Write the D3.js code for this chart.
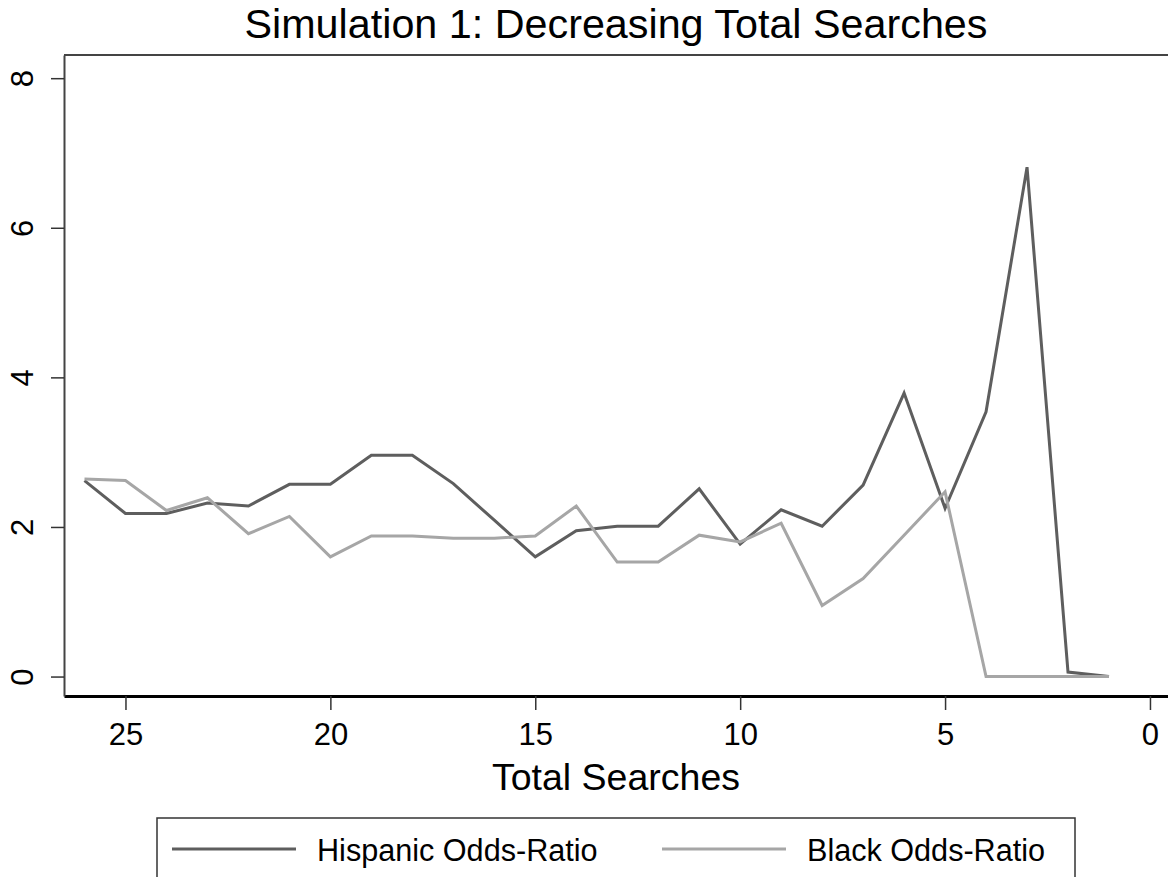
<!DOCTYPE html>
<html>
<head>
<meta charset="utf-8">
<script src="https://cdn.jsdelivr.net/npm/d3@7"></script>
<style>
  body { margin: 0; background: #fff; }
  text { font-family: "Liberation Sans", Arial, sans-serif; fill: #000; }
</style>
</head>
<body>
<div id="sim-chart"></div>
<script>
// data (x = total searches, decreasing)
const searches = [26, 25, 24, 23, 22, 21, 20, 19, 18, 17, 16, 15, 14, 13, 12, 11, 10, 9, 8, 7, 6, 5, 4, 3, 2, 1];
const hispanicOR = [2.62, 2.18, 2.18, 2.32, 2.28, 2.57, 2.57, 2.96, 2.96, 2.58, 2.09, 1.60, 1.95, 2.01, 2.01, 2.51, 1.77, 2.23, 2.01, 2.56, 3.79, 2.25, 3.54, 6.81, 0.06, 0.0];
const blackOR = [2.64, 2.62, 2.22, 2.39, 1.91, 2.14, 1.60, 1.88, 1.88, 1.85, 1.85, 1.88, 2.28, 1.53, 1.53, 1.89, 1.80, 2.05, 0.95, 1.31, 1.89, 2.47, 0.0, 0.0, 0.0, 0.0];
const xTicks = [25, 20, 15, 10, 5, 0];
const yTicks = [0, 2, 4, 6, 8];
const seriesNames = ["Hispanic Odds-Ratio", "Black Odds-Ratio"];
const seriesColors = ["#5e5e5e", "#a6a6a6"];

const W = 1168, H = 877;
const margin = { top: 55, right: 0, bottom: 181, left: 64 };

const svg = d3.select("#sim-chart")
    .append("svg")
    .attr("width", W)
    .attr("height", H);

// scales (x axis runs backwards)
const x = d3.scaleLinear().domain([26.5, -0.44]).range([margin.left, W - margin.right]);
const y = d3.scaleLinear().domain([-0.26, 8.31]).range([H - margin.bottom, margin.top]);

// title
svg.append("text")
    .attr("x", (margin.left + W) / 2)
    .attr("y", 38)
    .attr("text-anchor", "middle")
    .style("font-size", "41.3px")
    .text("Simulation 1: Decreasing Total Searches");

// frame: top line
svg.append("line")
    .attr("x1", margin.left).attr("x2", W)
    .attr("y1", margin.top).attr("y2", margin.top)
    .attr("stroke", "#444").attr("stroke-width", 2);

// x axis
const xAxis = svg.append("g")
    .attr("transform", `translate(0,${H - margin.bottom})`)
    .call(d3.axisBottom(x).tickValues(xTicks).tickSize(14).tickSizeOuter(0).tickPadding(13).tickFormat(d3.format("d")));
xAxis.select(".domain").attr("stroke", "#000").attr("stroke-width", 3);
xAxis.selectAll(".tick line").attr("stroke", "#333").attr("stroke-width", 1.5);
xAxis.selectAll(".tick text").style("font-size", "31px");

// y axis
const yAxis = svg.append("g")
    .attr("transform", `translate(${margin.left},0)`)
    .call(d3.axisLeft(y).tickValues(yTicks).tickSize(13).tickSizeOuter(0).tickFormat(d3.format("d")));
yAxis.select(".domain").attr("stroke", "#444").attr("stroke-width", 2);
yAxis.selectAll(".tick line").attr("stroke", "#333").attr("stroke-width", 1.5);
yAxis.selectAll(".tick text")
    .style("font-size", "31px")
    .attr("text-anchor", "middle")
    .attr("x", null).attr("dy", null)
    .attr("transform", "translate(-31,0) rotate(-90)");

svg.selectAll(".domain").attr("fill", "none");
svg.selectAll(".tick text").attr("fill", "#000").attr("font-family", null);

// x axis title
svg.append("text")
    .attr("x", (margin.left + W) / 2)
    .attr("y", 790)
    .attr("text-anchor", "middle")
    .style("font-size", "37.5px")
    .text("Total Searches");

// lines
const line = d3.line()
    .x((d, i) => x(searches[i]))
    .y(d => y(d));

[hispanicOR, blackOR].forEach(function (vals, k) {
    svg.append("path")
        .datum(vals)
        .attr("d", line)
        .attr("fill", "none")
        .attr("stroke", seriesColors[k])
        .attr("stroke-width", 3)
        .attr("stroke-linejoin", "miter");
});

// legend
const legend = svg.append("g");
legend.append("rect")
    .attr("x", 157).attr("y", 818)
    .attr("width", 918).attr("height", 80)
    .attr("fill", "#fff")
    .attr("stroke", "#333").attr("stroke-width", 1.5);

const legendX = [172, 662];
seriesNames.forEach(function (name, k) {
    legend.append("line")
        .attr("x1", legendX[k]).attr("x2", legendX[k] + 124)
        .attr("y1", 849).attr("y2", 849)
        .attr("stroke", seriesColors[k]).attr("stroke-width", 3);
    legend.append("text")
        .attr("x", legendX[k] + 145)
        .attr("y", 861)
        .style("font-size", "30.6px")
        .text(name);
});
</script>
</body>
</html>
